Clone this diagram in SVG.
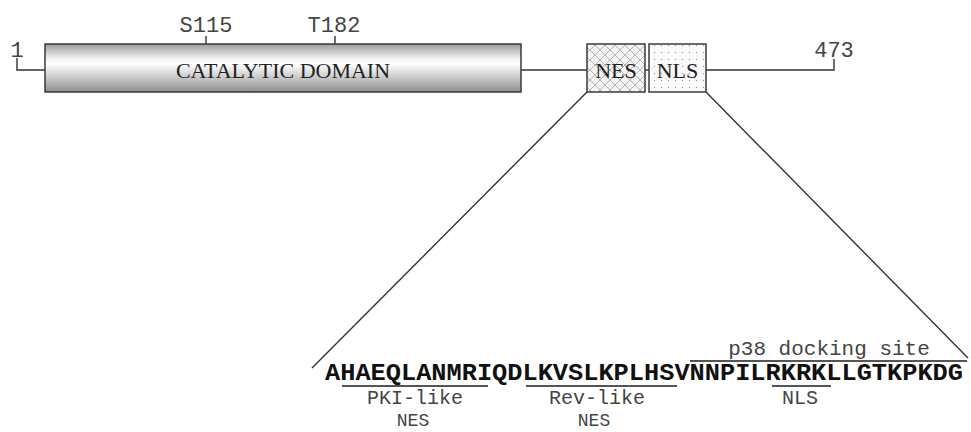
<svg xmlns="http://www.w3.org/2000/svg" width="971" height="432" viewBox="0 0 971 432">
<style>
.ln{stroke:#333;stroke-width:1.4;fill:none}
.box{stroke:#3a3a3a;stroke-width:1.5}
.serif{font-family:"Liberation Serif","Times New Roman",serif;font-size:22px;fill:#222;text-anchor:middle}
.mono{font-family:"Liberation Mono","Courier New",monospace;font-size:22px;fill:#444;text-anchor:middle}
.lab{font-size:20px}
.seq{font-family:"Liberation Mono","Courier New",monospace;font-size:24px;font-weight:bold;fill:#111}
.br{stroke:#555;stroke-width:2;fill:none}
.small{font-size:18px}
</style>
<defs>
<linearGradient id="cyl" x1="0" y1="0" x2="0" y2="1">
<stop offset="0" stop-color="#9c9c9c"/>
<stop offset="0.3" stop-color="#f2f2f2"/>
<stop offset="0.42" stop-color="#ffffff"/>
<stop offset="1" stop-color="#8e8e8e"/>
</linearGradient>
<pattern id="hatch" width="10" height="10" patternUnits="userSpaceOnUse">
<rect width="10" height="10" fill="#f4f4f4"/>
<path d="M0,0 L10,10 M10,0 L0,10" stroke="#b4b4b4" stroke-width="1"/>
</pattern>
<pattern id="dots" width="7" height="7" patternUnits="userSpaceOnUse">
<rect width="7" height="7" fill="#fafafa"/>
<circle cx="3.5" cy="3.5" r="0.7" fill="#9a9a9a"/>
</pattern>
</defs>
<g id="connectors">
<path class="ln" d="M17,58 V70 H45"/>
<path class="ln" d="M521,70 H587"/>
<path class="ln" d="M645,70 H649"/>
<path class="ln" d="M706,70 H834 V59"/>
<path class="ln" d="M206,36 V44"/>
<path class="ln" d="M335,36 V44"/>
<path class="ln" d="M587,92 L312,368"/>
<path class="ln" d="M706,92 L968,358"/>
</g>
<g id="labels-top">
<text class="mono" x="17" y="57">1</text>
<text class="mono" x="206" y="32">S115</text>
<text class="mono" x="334" y="32">T182</text>
<text class="mono" x="834" y="57">473</text>
</g>
<g id="catalytic">
<rect class="box" x="45" y="44" width="476" height="48" fill="url(#cyl)"/>
<text class="serif" x="283" y="78">CATALYTIC DOMAIN</text>
</g>
<g id="nes">
<rect class="box" x="587" y="44" width="58" height="48" fill="url(#hatch)"/>
<text class="serif" x="616" y="78">NES</text>
</g>
<g id="nls">
<rect class="box" x="649" y="44" width="57" height="48" fill="url(#dots)"/>
<text class="serif" x="677.5" y="78">NLS</text>
</g>
<g id="sequence">
<text class="mono" x="829" y="355" style="font-size:21px">p38 docking site</text>
<path class="br" d="M690,361 H967"/>
<text class="seq" x="325" y="380" textLength="638" lengthAdjust="spacingAndGlyphs">AHAEQLANMRIQDLKVSLKPLHSVNNPILRKRKLLGTKPKDG</text>
<path class="br" d="M342,386 H488"/>
<path class="br" d="M526,386 H677"/>
<path class="br" d="M772,386 H831"/>
<text class="mono lab" x="415" y="404">PKI-like</text>
<text class="mono lab" x="597" y="404">Rev-like</text>
<text class="mono lab" x="800" y="404">NLS</text>
<text class="mono small" x="413" y="426">NES</text>
<text class="mono small" x="594" y="426">NES</text>
</g>
</svg>
